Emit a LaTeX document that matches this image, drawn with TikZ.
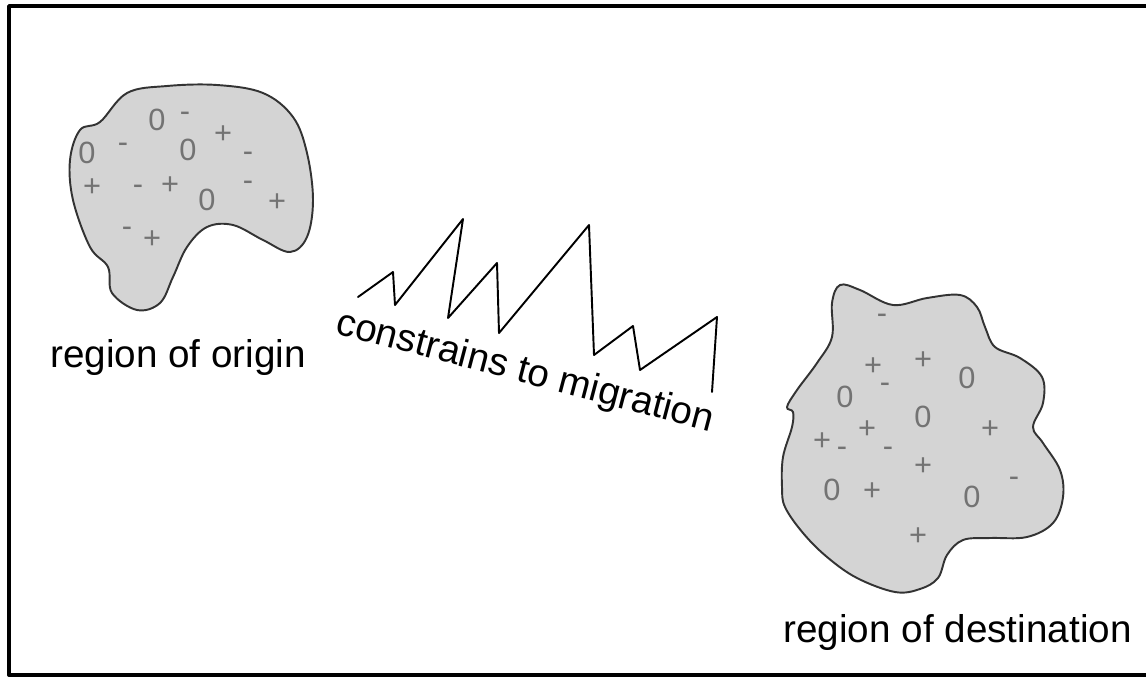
\documentclass[tikz,border=0pt]{standalone}
\usepackage{fontspec}
\setmainfont{Liberation Sans}

\begin{document}
\begin{tikzpicture}[
  x=0.02cm,
  y=-0.02cm,
  line cap=round,
  line join=round,
  blob/.style={fill=black!17, draw=black!80, line width=1.1pt},
  charge/.style={text=black!55, inner sep=0pt,
    font=\fontsize{17.5}{20}\selectfont},
  caption/.style={inner sep=0pt, font=\fontsize{22}{26}\selectfont}
]
  \useasboundingbox (0,0) rectangle (1146,677);

  % Rahmen
  \draw[line width=2.2pt]
    (9,6) rectangle (1152,675);

  % Herkunftsgebiet
  \draw[blob]
    plot[smooth cycle, tension=0.6] coordinates {
      (80,130) (100,122) (127,93) (167,86) (217,85) (263,93)
      (293,117) (307,153) (313,200) (307,237) (290,252)
      (263,240) (233,225) (207,227) (187,247) (173,277)
      (160,303) (137,310) (112,293) (108,267) (90,247)
      (73,200) (70,160)
    };

  \foreach \px/\py/\sym [count=\i] in {
      157/120/0, 185/117/-, 223/135/+, 188/150/0, 87/153/0,
      123/148/-, 248/157/-, 92/188/+, 138/190/-, 170/186/+,
      207/200/0, 248/186/-, 277/203/+, 127/232/-, 152/240/+}
    \node[charge] (o\i) at (\px,\py) {\sym};

  % Zielgebiet
  \draw[blob]
    plot[smooth cycle, tension=0.6] coordinates {
      (840,285) (860,290) (893,305) (927,298) (960,295)
      (977,307) (985,327) (995,347) (1020,358) (1042,377)
      (1043,403) (1033,427) (1043,443) (1060,470) (1063,497)
      (1053,523) (1027,537) (990,538) (963,540) (947,555)
      (938,578) (920,589) (895,592) (857,578) (827,557)
      (803,533) (785,507) (782,487) (783,457) (792,427)
      (793,412) (787,407) (797,390) (817,363) (832,337)
      (832,303)
    };

  \foreach \px/\py/\sym [count=\i] in {
      882/319/-, 873/367/+, 923/361/+, 967/378/0, 845/397/0,
      885/388/-, 923/417/0, 867/430/+, 990/430/+, 822/442/+,
      842/452/-, 888/452/-, 923/467/+, 832/490/0, 872/492/+,
      972/497/0, 1014/482/-, 918/537/+}
    \node[charge] (d\i) at (\px,\py) {\sym};

  % Hindernisse
  \draw[line width=1.1pt]
    (358,297) -- (393,272) -- (395,305) -- (463,219)
    -- (448,318) -- (497,263) -- (499,333) -- (589,225)
    -- (594,355) -- (633,326) -- (640,370) -- (717,317)
    -- (712,392);

  % Beschriftungen
  \node[caption, anchor=base west] (origin)
    at (50,367) {region of origin};
  \node[caption, anchor=base east] (dest)
    at (1132,642) {region of destination};
  \node[caption, anchor=base west, rotate=-14.7] (barrier)
    at (334,333) {constrains to migration};
\end{tikzpicture}
\end{document}
